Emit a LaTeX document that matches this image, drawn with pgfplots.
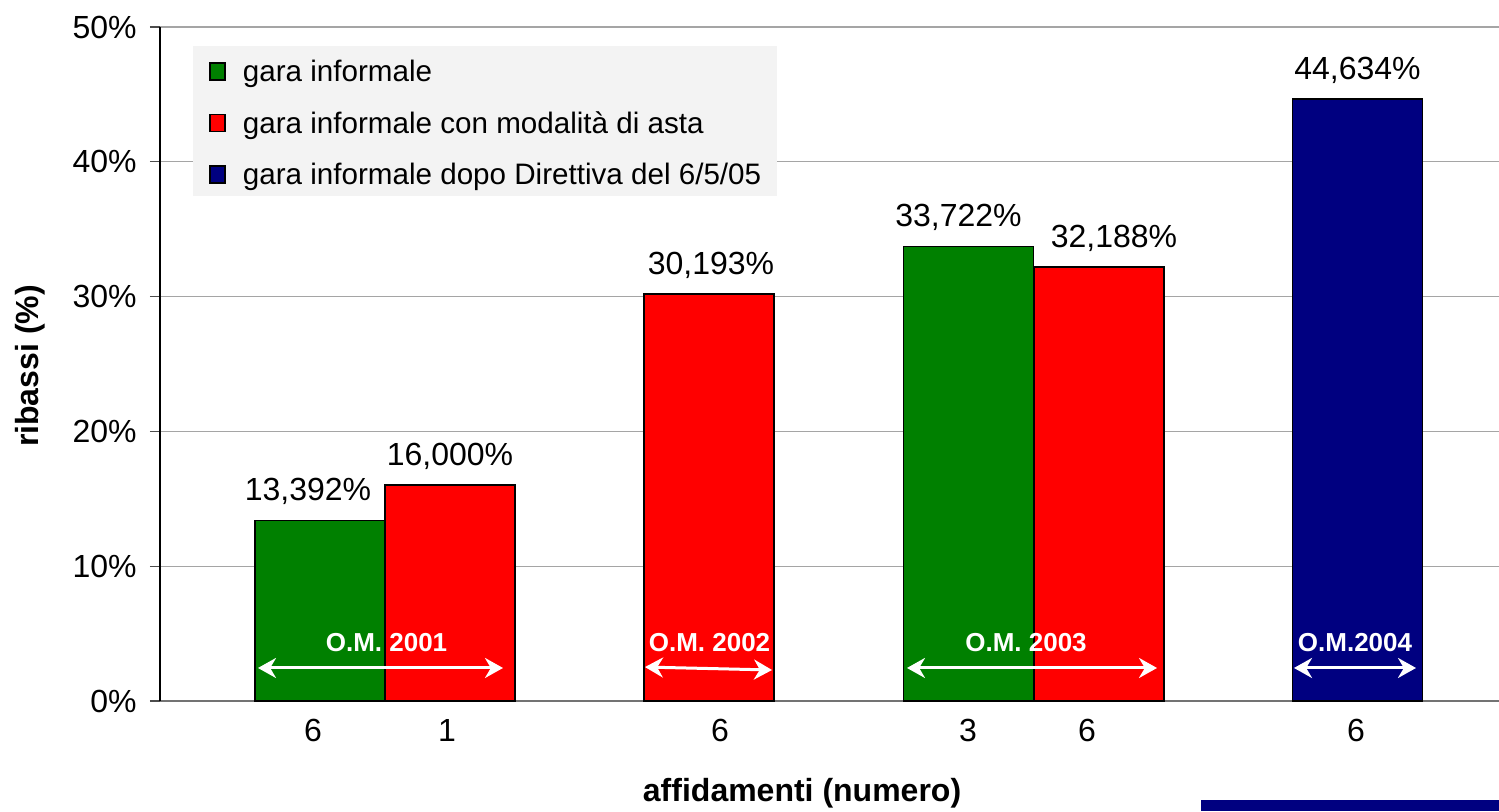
\documentclass[border=0pt]{standalone}
\usepackage{pgfplots}
\pgfplotsset{compat=1.18}
\usepackage{pgfplotstable}
\usepackage{fontspec}
\setmainfont{Liberation Sans}
\usetikzlibrary{arrows.meta}
\definecolor{cgreen}{RGB}{0,128,0}
\definecolor{cred}{RGB}{255,0,0}
\definecolor{cnavy}{RGB}{0,0,128}
\definecolor{gridgray}{RGB}{165,165,165}
\definecolor{leggray}{RGB}{243,243,243}

\pgfplotstableread{
x y dx
320 13.392 -6
968.5 33.722 -5
}\greendata
\pgfplotstableread{
x y dx
450 16.000 0
709 30.193 1
1099 32.188 7.5
}\reddata
\pgfplotstableread{
x y dx
1357.5 44.634 0
}\bluedata

\pgfplotsset{
  barlbl/.style={
    nodes near coords={\pgfmathprintnumber[fixed,fixed zerofill,precision=3,use comma]{\pgfplotspointmeta}\%},
    visualization depends on={\thisrow{dx} \as \dx},
    every node near coord/.append style={anchor=base, xshift=\dx pt, yshift=10pt, text=black, font=\fontsize{16}{19}\selectfont, inner sep=0pt},
  },
}

\begin{document}
\begin{tikzpicture}
\path[use as bounding box] (0pt,0pt) rectangle (749.5pt,405.5pt);
\fill[cnavy] (600.5pt,0pt) rectangle (749.5pt,5.5pt);
\begin{axis}[
  at={(80pt,55pt)}, anchor=south west,
  scale only axis, width=669.5pt, height=337pt,
  xmin=160, xmax=1499, ymin=0, ymax=50,
  axis x line*=bottom, axis y line*=left,
  x axis line style={draw=black!55, line width=0.6pt},
  y axis line style={draw=black, line width=0.6pt},
  ytick={0,10,...,50},
  yticklabel={\pgfmathprintnumber{\tick}\%},
  ymajorgrids, grid style={draw=gridgray, line width=0.6pt},
  tick align=outside, major tick length=5pt,
  ytick style={draw=black!70, line width=0.6pt},
  xtick={313,447,720,968,1087,1356},
  xticklabels={6,1,6,3,6,6},
  xtick style={draw=none},
  /pgf/number format/assume math mode=true,
  tick label style={font=\fontsize{16}{19}\selectfont, inner sep=0pt},
  xticklabel style={yshift=-4pt},
  yticklabel style={xshift=-6.5pt},
  ylabel={ribassi (\%)}, xlabel={affidamenti (numero)},
  label style={font=\bfseries\fontsize{16}{19}\selectfont},
  ylabel style={at={(axis description cs:-0.0971,0.497)}, anchor=center},
  xlabel style={at={(axis description cs:0.4795,-0.1365)}, anchor=center},
  legend style={at={(axis description cs:0.0246,0.973)}, anchor=north west,
    fill=leggray, draw=none, font=\fontsize{14.8}{18}\selectfont,
    inner xsep=8pt, inner ysep=4pt, row sep=10.25pt,
    nodes={inner sep=0pt, text height=14pt, text depth=1.5pt},
    /tikz/every odd column/.append style={column sep=8.5pt}},
  legend cell align=left,
  legend image code/.code={\draw[#1, line width=0.8pt] (0pt,-5.5pt) rectangle (7.5pt,3pt);},
]
\addplot[ybar, bar shift=0pt, bar width=130, fill=cgreen, draw=black, line width=0.9pt, barlbl] table[x=x,y=y] {\greendata};
\addlegendentry{gara informale}
\addplot[ybar, bar shift=0pt, bar width=130, fill=cred, draw=black, line width=0.9pt, barlbl] table[x=x,y=y] {\reddata};
\addlegendentry{gara informale con modalità di asta}
\addplot[ybar, bar shift=0pt, bar width=130, fill=cnavy, draw=black, line width=0.9pt, barlbl] table[x=x,y=y] {\bluedata};
\addlegendentry{gara informale dopo Direttiva del 6/5/05}

\draw[white, line width=1.5pt, {Stealth[length=9pt,width=10pt]}-{Stealth[length=9pt,width=10pt]}] (axis cs:258,2.45) -- (axis cs:503,2.45);
\draw[white, line width=1.5pt, {Stealth[length=9pt,width=10pt]}-{Stealth[length=9pt,width=10pt]}] (axis cs:645,2.52) -- (axis cs:772,2.30);
\draw[white, line width=1.5pt, {Stealth[length=9pt,width=10pt]}-{Stealth[length=9pt,width=10pt]}] (axis cs:907,2.45) -- (axis cs:1157,2.45);
\draw[white, line width=1.5pt, {Stealth[length=9pt,width=10pt]}-{Stealth[length=9pt,width=10pt]}] (axis cs:1294,2.45) -- (axis cs:1416,2.45);
\node[text=white, font=\bfseries\fontsize{13}{15}\selectfont, inner sep=0pt] at (axis cs:386.5,4.3) {O.M. 2001};
\node[text=white, font=\bfseries\fontsize{13}{15}\selectfont, inner sep=0pt] at (axis cs:709.5,4.3) {O.M. 2002};
\node[text=white, font=\bfseries\fontsize{13}{15}\selectfont, inner sep=0pt] at (axis cs:1026,4.3) {O.M. 2003};
\node[text=white, font=\bfseries\fontsize{13}{15}\selectfont, inner sep=0pt] at (axis cs:1355,4.3) {O.M.2004};
\end{axis}
\end{tikzpicture}
\end{document}
